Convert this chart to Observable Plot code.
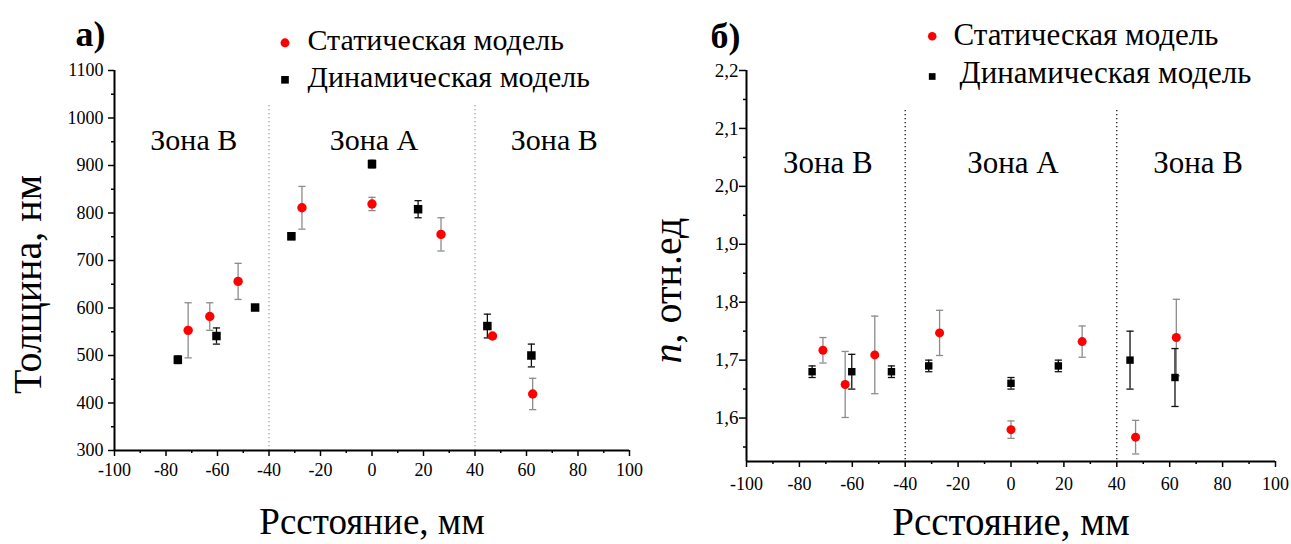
<!DOCTYPE html>
<html><head><meta charset="utf-8">
<script src="https://cdn.jsdelivr.net/npm/d3@7"></script>
<script src="https://cdn.jsdelivr.net/npm/@observablehq/plot@0.6"></script>
<style>
body{margin:0;background:#fff;}
#wrap{position:relative;width:1291px;height:544px;overflow:hidden;background:#fff;}
#a,#b{position:absolute;top:0;}
#a{left:0;} #b{left:645px;}
svg text{font-family:"Liberation Serif","Times New Roman",serif !important;}
</style></head><body><div id="wrap"><div id="a"></div><div id="b"></div></div>
<script>
// ---------- data ----------
const seriesNames = ["Статическая модель", "Динамическая модель"];
const panelLetters = ["а)", "б)"];
const xTitle = "Рсстояние, мм";
const yTitles = ["Толщина, нм", "n, отн.ед"];
const zoneNames = ["Зона В", "Зона А", "Зона В"];
const zoneBounds = [-100, -40, 40, 100];

// panel a — thickness, nm
const thickStaticX = [-71.4, -63, -52, -27.2, 0, 26.8, 46.8, 62.4];
const thickStaticY = [553, 582, 656, 811, 819, 755, 541, 419];
const thickStaticErr = [58, 29, 38, 45, 14, 35, 4, 33];
const thickDynX = [-75.4, -60.4, -45.4, -31.3, 0, 17.9, 44.8, 61.9];
const thickDynY = [491, 541, 601, 751, 903, 808, 562, 500];
const thickDynErr = [8, 17, 6, 7, 8, 18, 25, 24];

// panel b — refractive index n
const nStaticX = [-71.1, -62.7, -51.5, -27, 0, 26.9, 47.1, 62.5];
const nStaticY = [1.717, 1.658, 1.709, 1.747, 1.580, 1.732, 1.567, 1.739];
const nStaticErr = [0.022, 0.057, 0.067, 0.039, 0.015, 0.027, 0.029, 0.066];
const nDynX = [-75.2, -60.2, -45.2, -31.1, 0, 17.9, 45, 62];
const nDynY = [1.68, 1.68, 1.68, 1.69, 1.66, 1.69, 1.70, 1.67];
const nDynErr = [0.01, 0.03, 0.01, 0.01, 0.01, 0.01, 0.05, 0.05];

// ticks
const xTicks = [-100, -80, -60, -40, -20, 0, 20, 40, 60, 80, 100];
const xMinor = [-90, -70, -50, -30, -10, 10, 30, 50, 70, 90];
const thickTicks = [300, 400, 500, 600, 700, 800, 900, 1000, 1100];
const thickMinor = [350, 450, 550, 650, 750, 850, 950, 1050];
const nTicks = [1.6, 1.7, 1.8, 1.9, 2.0, 2.1, 2.2];
const nMinor = [1.55, 1.65, 1.75, 1.85, 1.95, 2.05, 2.15];

// ---------- helpers ----------
const rows = (xs, ys, es) => xs.map((x, i) => ({x, y: ys[i], e: es[i]}));
const zoneCenters = zoneNames.map((name, i) => ({name, x: (zoneBounds[i] + zoneBounds[i + 1]) / 2}));
const cap = {draw(ctx) { ctx.moveTo(-3.6, 0); ctx.lineTo(3.6, 0); }};
const FONT = "'Liberation Serif', 'Times New Roman', serif";

function panel(o) {
  const S = rows(...o.stat), D = rows(...o.dyn);
  const errMarks = (data, color) => [
    Plot.ruleX(data, {x: "x", y1: d => d.y - d.e, y2: d => d.y + d.e, stroke: color, strokeWidth: 1.3}),
    Plot.dot(data, {x: "x", y: d => d.y + d.e, symbol: cap, stroke: color, fill: "none", strokeWidth: 1.3}),
    Plot.dot(data, {x: "x", y: d => d.y - d.e, symbol: cap, stroke: color, fill: "none", strokeWidth: 1.3})
  ];
  const T = {fill: "#000", fontFamily: FONT, lineAnchor: "middle", textAnchor: "middle"};
  return Plot.plot({
    width: o.width, height: 544,
    marginLeft: o.ml, marginRight: o.mr, marginTop: 70, marginBottom: o.mb,
    x: {domain: [zoneBounds[0], zoneBounds[3]]},
    y: {domain: o.yDomain},
    style: {fontFamily: FONT, color: "#000", background: "transparent", overflow: "visible"},
    marks: [
      // zone dividers
      Plot.ruleX(zoneBounds.slice(1, 3), {y1: o.divTop, y2: o.yDomain[0], stroke: o.divColor, strokeWidth: 1.2, strokeDasharray: "1.2,2.8"}),
      // axes
      Plot.axisX({ticks: xTicks, tickSize: 6, tickPadding: o.xPad, tickFormat: d => String(d), fontSize: 18, fontFamily: FONT, label: null, strokeWidth: 1.5}),
      Plot.axisX({ticks: xMinor, tickSize: 3, text: null, label: null, strokeWidth: 1.5}),
      Plot.axisY({ticks: o.yTicks, tickSize: o.yTickSize, tickPadding: o.yPad, tickFormat: o.yFmt, fontSize: o.yFont, fontFamily: FONT, label: null, strokeWidth: 1.5}),
      Plot.axisY({ticks: o.yMinor, tickSize: 3, text: null, label: null, strokeWidth: 1.5}),
      Plot.ruleX([zoneBounds[0]], {stroke: "#000", strokeWidth: 2}),
      Plot.ruleY([o.yDomain[0]], {stroke: "#000", strokeWidth: 2}),
      // error bars
      ...errMarks(S, "#8c8c8c"),
      ...errMarks(D, "#111"),
      // points
      Plot.dot(D, {x: "x", y: "y", symbol: "square", r: o.sqR, fill: "#000"}),
      Plot.dot(S, {x: "x", y: "y", symbol: "circle", r: o.cirR, fill: "#ff0000"}),
      // zone labels
      Plot.text(zoneCenters, {...T, x: "x", text: "name", frameAnchor: "top", dy: o.zoneDy, dx: 2, fontSize: o.zoneFont}),
      // titles
      Plot.text([xTitle], {...T, text: d => d, frameAnchor: "bottom", dy: o.xtDy, fontSize: o.xtFont}),
      Plot.text([o.yTitle], {...T, text: d => d, frameAnchor: "left", rotate: -90, dx: o.ytDx, dy: o.ytDy, fontSize: 40, className: "ytitle"}),
      Plot.text([o.letter], {...T, text: d => d, frameAnchor: "top-left", dx: o.letDx, dy: o.letDy, fontSize: 36, fontWeight: "bold"}),
      // legend
      Plot.dot([0], {frameAnchor: "top-left", dx: o.lgDx, dy: o.lgDy1, r: o.cirR * 0.95, fill: "#ff0000"}),
      Plot.dot([0], {frameAnchor: "top-left", dx: o.lgDx, dy: o.lgDy2, r: o.sqR * 0.9, symbol: "square", fill: "#000"}),
      Plot.text([seriesNames[0]], {...T, text: d => d, frameAnchor: "top-left", textAnchor: "start", dx: o.lgTx1, dy: o.lgTy1, fontSize: o.lgFont}),
      Plot.text([seriesNames[1]], {...T, text: d => d, frameAnchor: "top-left", textAnchor: "start", dx: o.lgTx2, dy: o.lgTy2, fontSize: o.lgFont})
    ]
  });
}

const A = panel({
  width: 645, ml: 114, mr: 16, mb: 94,
  yDomain: [300, 1100], yTicks: thickTicks, yMinor: thickMinor, yFmt: d => String(d), yFont: 18,
  yTickSize: 6, yPad: 5, xPad: 7,
  stat: [thickStaticX, thickStaticY, thickStaticErr], dyn: [thickDynX, thickDynY, thickDynErr],
  divTop: 1026, divColor: "#7a7a7a", sqR: 4.8, cirR: 4.7,
  zoneDy: 70, zoneFont: 30, xtDy: 72, xtFont: 37,
  yTitle: yTitles[0], ytDx: -86, ytDy: 24,
  letter: panelLetters[0], letDx: -24, letDy: -36,
  lgDx: 170.5, lgDy1: -27.7, lgDy2: 9.3, lgTx1: 193, lgTy1: -30, lgTx2: 193, lgTy2: 7, lgFont: 30
});
const B = panel({
  width: 646, ml: 101, mr: 16, mb: 83,
  yDomain: [1.525, 2.2], yTicks: nTicks, yMinor: nMinor, yFmt: d => d.toFixed(1).replace(".", ","), yFont: 19,
  yTickSize: 7, yPad: 1, xPad: 10,
  stat: [nStaticX, nStaticY, nStaticErr], dyn: [nDynX, nDynY, nDynErr],
  divTop: 2.131, divColor: "#000", sqR: 4.2, cirR: 4.5,
  zoneDy: 92.5, zoneFont: 31, xtDy: 61, xtFont: 39,
  yTitle: yTitles[1], ytDx: -78, ytDy: 24.5,
  letter: panelLetters[1], letDx: -21, letDy: -34,
  lgDx: 185.7, lgDy1: -34.3, lgDy2: 6, lgTx1: 207, lgTy1: -35, lgTx2: 213, lgTy2: 3, lgFont: 31
});
document.getElementById("a").appendChild(A);
document.getElementById("b").appendChild(B);

// italic "n" in the right y title
d3.select(B).selectAll(".ytitle text").each(function () {
  const t = d3.select(this);
  const s = t.text();
  t.text(null);
  t.append("tspan").attr("font-style", "italic").text(s.slice(0, 1));
  t.append("tspan").text(s.slice(1));
});
</script></body></html>
